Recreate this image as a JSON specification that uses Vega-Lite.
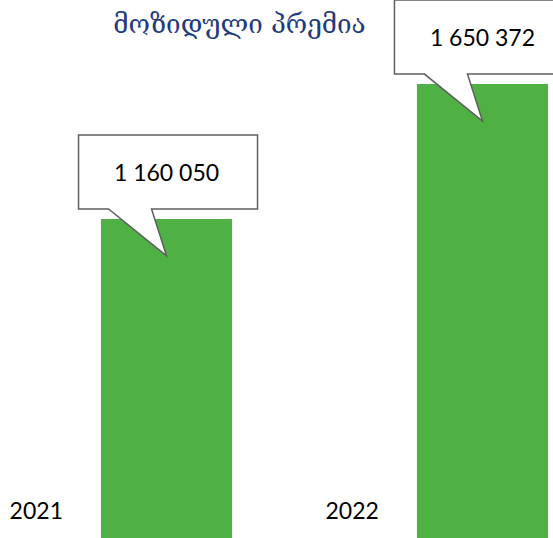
{
  "$schema": "https://vega.github.io/schema/vega-lite/v6.json",
  "width": 553,
  "height": 538,
  "padding": 0,
  "autosize": {"type": "none"},
  "background": "white",
  "config": {"view": {"stroke": null}},
  "title": {
    "text": "მოზიდული პრემია",
    "font": "DejaVu Serif",
    "fontSize": 26,
    "fontWeight": "normal",
    "color": "#1F3B7E",
    "anchor": "middle",
    "frame": "group",
    "orient": "top",
    "offset": -41,
    "dx": -37
  },
  "data": {
    "values": [
      {"year": "2021", "value": 1160050, "label": "1 160 050"},
      {"year": "2022", "value": 1650372, "label": "1 650 372"}
    ]
  },
  "encoding": {
    "x": {
      "field": "year",
      "type": "nominal",
      "axis": null,
      "scale": {"paddingInner": 0.585, "paddingOuter": 0.1677, "align": 0.953}
    }
  },
  "layer": [
    {
      "mark": {"type": "bar", "color": "#4FB044"},
      "encoding": {
        "y": {"field": "value", "type": "quantitative", "axis": null, "scale": {"domain": [0, 1956000], "nice": false, "zero": true}}
      }
    },
    {
      "mark": {
        "type": "point",
        "shape": "M -88 -84 L 91 -84 L 91 -10 L -15 -10 L 0 37 L -58 -10 L -88 -10 Z",
        "size": 4,
        "filled": true,
        "fill": "white",
        "stroke": "#5F5F5F",
        "strokeWidth": 1.5,
        "opacity": 1,
        "fillOpacity": 1,
        "strokeOpacity": 1
      },
      "encoding": {
        "y": {"field": "value", "type": "quantitative"}
      }
    },
    {
      "mark": {"type": "text", "font": "Lato", "fontSize": 23, "color": "#000000", "align": "center", "baseline": "middle", "dy": -45},
      "encoding": {
        "y": {"field": "value", "type": "quantitative"},
        "text": {"field": "label"}
      }
    },
    {
      "mark": {"type": "text", "font": "Lato", "fontSize": 23, "color": "#000000", "align": "right", "baseline": "middle", "dx": -38, "dy": -26},
      "encoding": {
        "x": {"field": "year", "type": "nominal", "bandPosition": 0},
        "y": {"datum": 0, "type": "quantitative"},
        "text": {"field": "year"}
      }
    }
  ]
}
